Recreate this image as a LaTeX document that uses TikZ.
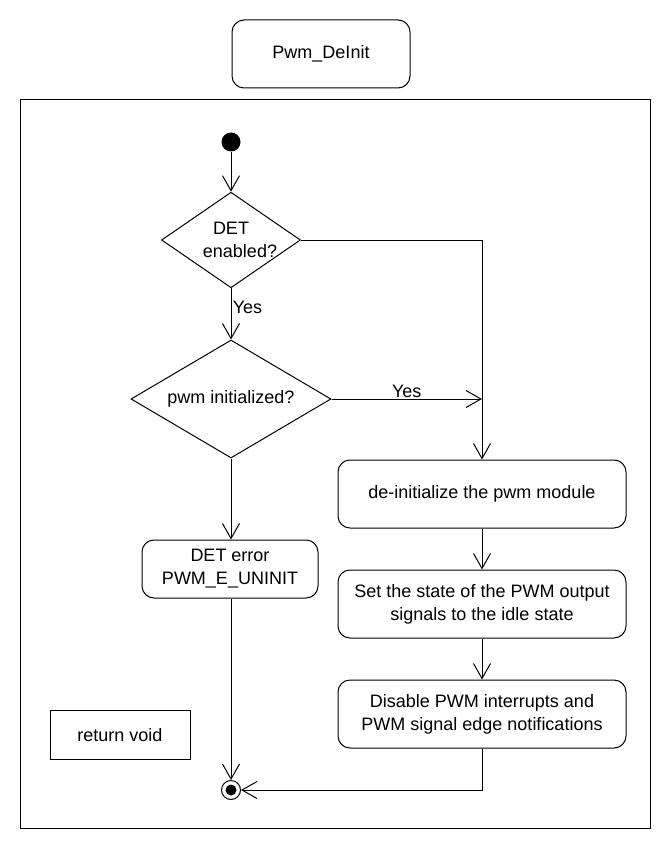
\documentclass[tikz,border=0pt]{standalone}
\usepackage{fontspec}
\setmainfont{Liberation Sans}
\usetikzlibrary{shapes.geometric,arrows.meta}

\begin{document}
\begin{tikzpicture}[x=1pt,y=-1pt,
	every node/.style={font=\fontsize{18}{23}\selectfont},
	line width=1pt,
	flow/.style={line width=1pt,-{Straight Barb[length=15pt,width=17pt,line width=1pt]}},
	actbox/.style={draw,line width=1pt,rounded corners=12pt,minimum width=288pt,minimum height=68pt,align=center},
	decide/.style={draw,line width=1pt,diamond,inner sep=-8pt,align=center}]

	\useasboundingbox (0,0) rectangle (670,850);

	% title and frame
	\node[draw,rounded corners=12pt,minimum width=178pt,minimum height=68pt] (title) at (321,54) {Pwm\_DeInit};
	\draw (20,100) rectangle (650,828);

	% start and end
	\node[circle,fill=black,minimum size=19pt,inner sep=0pt] (start) at (231,142) {};
	\node[circle,draw,minimum size=19pt,inner sep=0pt] (stop) at (231,790) {};
	\fill (stop.center) circle (5.5pt);

	% decisions
	\node[decide,minimum width=139pt,minimum height=78pt] (detchk) at (231,240) {DET\\\hspace*{18pt}enabled?};
	\node[decide,minimum width=200pt,minimum height=118pt] (initchk) at (231,399) {pwm initialized?};

	% actions
	\node[actbox,minimum width=176pt,minimum height=58pt] (deterr) at (230,569) {DET error\\PWM\_E\_UNINIT};
	\node[actbox] (deinit) at (482,494) {de-initialize the pwm module};
	\node[actbox] (idle) at (482,604) {Set the state of the PWM output\\signals to the idle state};
	\node[actbox] (irq) at (482,714) {Disable PWM interrupts and\\PWM signal edge notifications};
	\node[draw,minimum width=140pt,minimum height=49pt] (ret) at (120,735) {return void};

	\coordinate (join) at (deinit.north |- initchk.east);

	% connectors
	\draw[flow] (start) -- (detchk.north);
	\draw[flow] (detchk.south) -- node[right,pos=0.38,xshift=-2pt] {Yes} (initchk.north);
	\draw[flow] (detchk.east) -| (deinit.north);
	\draw[flow] (initchk.east) -- node[above,inner sep=1pt] {Yes} (join);
	\draw[flow] (initchk.south) -- (initchk.south |- deterr.north);
	\draw[flow] (initchk.south |- deterr.south) -- (stop.north);
	\draw[flow] (deinit.south) -- (idle.north);
	\draw[flow] (idle.south) -- (irq.north);
	\draw[flow] (irq.south) |- (stop.east);
\end{tikzpicture}
\end{document}
